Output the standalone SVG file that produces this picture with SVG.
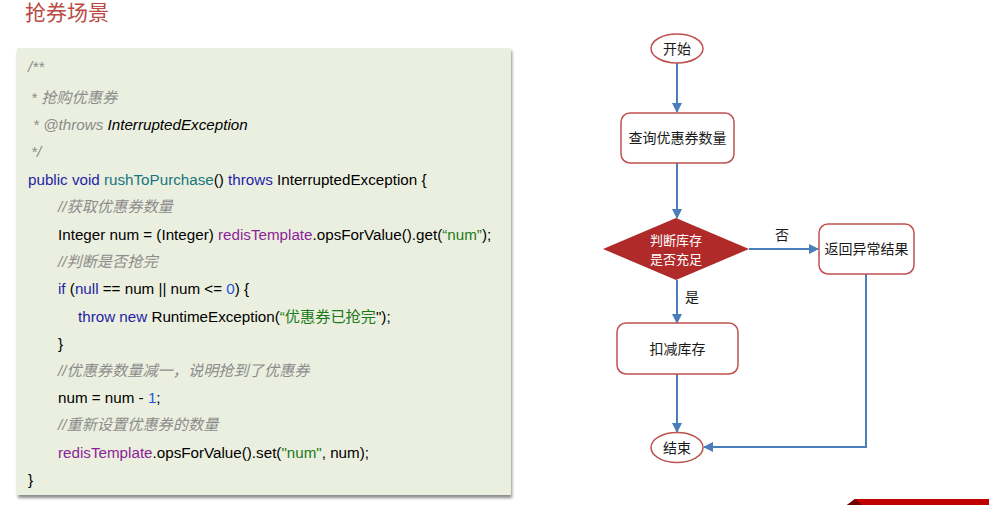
<svg xmlns="http://www.w3.org/2000/svg" width="989" height="505" viewBox="0 0 989 505">
<defs>
<style>
.code{font-family:"Liberation Sans","Noto Sans CJK SC",Arial,sans-serif;font-size:15.2px;fill:#000}
.cm{fill:#8c8c8c;font-style:italic}
.kw{fill:#1f1fa8}
.fn{fill:#18757e}
.fld{fill:#8b1f99}
.str{fill:#1a7a1a}
.num{fill:#2255dd}
.node{fill:#fff;stroke:#c0504d;stroke-width:1.5}
.lbl{font-family:"Noto Sans CJK SC","Liberation Sans",sans-serif;font-size:14px;fill:#1a1a1a;text-anchor:middle}
.wl{font-family:"Noto Sans CJK SC","Liberation Sans",sans-serif;font-size:13px;fill:#fff;text-anchor:middle}
.conn{fill:none;stroke:#4a7ebb;stroke-width:2}
</style>
<marker id="arr" viewBox="0 0 10 10" refX="9" refY="5" markerWidth="5" markerHeight="5" orient="auto" markerUnits="strokeWidth">
<path d="M0,0 L10,5 L0,10 z" fill="#4a7ebb"/>
</marker>
<filter id="sh" x="-5%" y="-5%" width="110%" height="110%">
<feDropShadow dx="1" dy="3" stdDeviation="1.5" flood-color="#000" flood-opacity="0.45"/>
</filter>
</defs>
<rect width="989" height="505" fill="#fff"/>
<text x="25" y="20" font-family="'Noto Sans CJK SC',sans-serif" font-size="21" fill="#b94a44">抢券场景</text>

<g id="code">
<rect x="17" y="48" width="494" height="447" fill="#ebefdf" filter="url(#sh)"/>
<text class="code" x="28" y="72"><tspan class="cm">/**</tspan></text>
<text class="code" x="31" y="103"><tspan class="cm">* 抢购优惠券</tspan></text>
<text class="code" x="33" y="130"><tspan class="cm">* @throws </tspan><tspan font-style="italic">InterruptedException</tspan></text>
<text class="code" x="31" y="157"><tspan class="cm">*/</tspan></text>
<text class="code" x="28" y="185"><tspan class="kw">public void </tspan><tspan class="fn">rushToPurchase</tspan>() <tspan class="kw">throws</tspan> InterruptedException {</text>
<text class="code" x="58" y="212"><tspan class="cm">//获取优惠券数量</tspan></text>
<text class="code" x="58" y="240">Integer num = (Integer) <tspan class="fld">redisTemplate</tspan>.opsForValue().get(<tspan class="str">“num”</tspan>);</text>
<text class="code" x="58" y="267"><tspan class="cm">//判断是否抢完</tspan></text>
<text class="code" x="58" y="294"><tspan class="kw">if</tspan> (<tspan class="kw">null</tspan> == num || num &lt;= <tspan class="num">0</tspan>) {</text>
<text class="code" x="78" y="322"><tspan class="kw">throw new</tspan> RuntimeException(<tspan class="str">“优惠券已抢完</tspan>");</text>
<text class="code" x="58" y="349">}</text>
<text class="code" x="58" y="376"><tspan class="cm">//优惠券数量减一，说明抢到了优惠券</tspan></text>
<text class="code" x="58" y="403">num = num - <tspan class="num">1</tspan>;</text>
<text class="code" x="58" y="430"><tspan class="cm">//重新设置优惠券的数量</tspan></text>
<text class="code" x="58" y="458"><tspan class="fld">redisTemplate</tspan>.opsForValue().set(<tspan class="str">"num"</tspan>, num);</text>
<text class="code" x="28" y="485">}</text>
</g>

<g id="connectors">
<line class="conn" x1="677" y1="63" x2="677" y2="112" marker-end="url(#arr)"/>
<line class="conn" x1="677" y1="163" x2="677" y2="218" marker-end="url(#arr)"/>
<line class="conn" x1="749" y1="249" x2="818" y2="249" marker-end="url(#arr)"/>
<line class="conn" x1="677" y1="280" x2="677" y2="323" marker-end="url(#arr)"/>
<line class="conn" x1="677" y1="374" x2="677" y2="432" marker-end="url(#arr)"/>
<polyline class="conn" points="866,274 866,447 704,447" marker-end="url(#arr)"/>
<text class="lbl" x="782" y="240">否</text>
<text class="lbl" x="692" y="302">是</text>
</g>

<g id="start">
<ellipse class="node" cx="677" cy="48.5" rx="26" ry="14.5"/>
<text class="lbl" x="677" y="54">开始</text>
</g>
<g id="query">
<rect class="node" x="621" y="113" width="113" height="50" rx="9"/>
<text class="lbl" x="677.5" y="143">查询优惠券数量</text>
</g>
<g id="check">
<polygon points="676,218 749,249 676,280 603,249" fill="#b02a2a"/>
<text class="wl"><tspan x="676" y="244.5">判断库存</tspan><tspan x="676" y="263.5">是否充足</tspan></text>
</g>
<g id="error">
<rect class="node" x="819" y="224" width="95" height="50" rx="9"/>
<text class="lbl" x="866.5" y="254">返回异常结果</text>
</g>
<g id="deduct">
<rect class="node" x="617" y="323" width="121" height="51" rx="9"/>
<text class="lbl" x="677.5" y="354">扣减库存</text>
</g>
<g id="end">
<ellipse class="node" cx="677" cy="447.5" rx="26" ry="15"/>
<text class="lbl" x="677" y="453">结束</text>
</g>

<polygon points="855,499 989,499 989,505 847,505" fill="#c00000"/>
<polygon points="855,499 862,505 847,505" fill="#6a0000"/>
</svg>
